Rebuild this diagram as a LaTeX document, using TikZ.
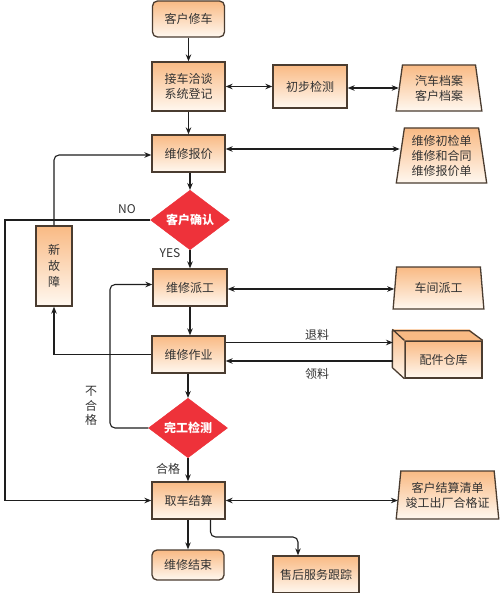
\documentclass[tikz,border=0pt]{standalone}
\usepackage{fontspec}
\setmainfont{Noto Sans CJK SC}
\usetikzlibrary{arrows.meta,shapes.geometric,calc}
\definecolor{boxtop}{RGB}{249,186,132}
\definecolor{boxbot}{RGB}{255,248,240}
\definecolor{boxline}{RGB}{74,60,48}
\definecolor{decred}{RGB}{238,50,58}
\definecolor{txt}{RGB}{51,51,51}
\definecolor{conn}{RGB}{30,30,30}
\tikzset{
  base/.style={draw=boxline, line width=1.3pt, top color=boxtop, bottom color=boxbot,
    text=txt, inner sep=0pt, align=center, font=\fontsize{12}{15}\selectfont},
  procbox/.style={base, rectangle, minimum width=#1},
  procbox/.default=73pt,
  roundbox/.style={base, rectangle, rounded corners=5pt},
  docbox/.style={base, trapezium, trapezium stretches=true,
    trapezium left angle=81, trapezium right angle=81},
  decbox/.style={diamond, fill=decred, draw=decred, text=white, inner sep=0pt,
    minimum width=79pt, minimum height=48pt, font=\fontsize{12}{15}\selectfont\bfseries},
  conline/.style={draw=conn, line width=1.1pt},
  arr/.style={conline, -{Stealth[length=7pt,width=5.5pt]}},
  darr/.style={conline, {Stealth[length=7pt,width=5.5pt]}-{Stealth[length=7pt,width=5.5pt]}},
  lbl/.style={text=txt, inner sep=0pt, font=\fontsize{12}{14.5}\selectfont, align=center}
}
\begin{document}
\begin{tikzpicture}[x=1pt,y=-1pt]
\useasboundingbox[fill=white] (0,0) rectangle (500,593);

% main column
\node[roundbox, minimum width=72pt, minimum height=36pt] (start) at (188.5,19) {客户修车};
\node[procbox, minimum height=49pt] (jc) at (188.5,86.5) {接车洽谈\\系统登记};
\node[procbox=74pt, minimum height=43pt] (cb) at (310,86.5) {初步检测};
\node[docbox, minimum width=86pt, minimum height=46pt] (da) at (439,88) {汽车档案\\客户档案};
\node[procbox, minimum height=37pt] (bj) at (188.5,153.5) {维修报价};
\node[docbox, minimum width=91pt, minimum height=55pt] (bd) at (441.5,155.5) {维修初检单\\维修和合同\\维修报价单};
\node[decbox] (qr) at (190,220) {客户确认};
\node[procbox=36pt, minimum height=80pt, font=\fontsize{12}{16}\selectfont] (xgz) at (54,266) {新\\故\\障};
\node[procbox=74pt, minimum height=37pt] (pg) at (190,287.5) {维修派工};
\node[docbox, minimum width=91pt, minimum height=42pt, trapezium left angle=80, trapezium right angle=80] (cj) at (438.5,288) {车间派工};
\node[procbox=77pt, minimum height=37pt] (wh) at (443.5,359.5) {配件仓库};
\fill[boxtop] (wh.north west) -- ++(-12,-11) -- ++(77,0) -- (wh.north east) -- cycle;
\shade[top color=boxtop, bottom color=boxbot] (wh.north west) -- ++(-12,-11) -- ++(0,37) -- (wh.south west) -- cycle;
\draw[boxline, line width=1.3pt, line join=round] (wh.south west) -- ++(-12,-11) -- ++(0,-37) -- ++(77,0) -- (wh.north east)
   (wh.north west) -- ++(-12,-11);
\coordinate (whback) at (393,348);
\node[procbox, minimum height=37pt] (zy) at (188.5,354.5) {维修作业};
\node[decbox, minimum height=47pt] (wg) at (188,428) {完工检测};
\node[procbox, minimum height=37pt] (qc) at (188.5,500.5) {取车结算};
\node[docbox, minimum width=103pt, minimum height=48pt] (qd) at (447.5,495) {客户结算清单\\竣工出厂合格证};
\node[roundbox, minimum width=72pt, minimum height=30pt] (js) at (188,565) {维修结束};
\node[procbox=86pt, minimum height=37pt] (sh) at (316,574.5) {售后服务跟踪};

\coordinate (farL) at (5,0);
\coordinate (loopL) at (110,0);
\coordinate (kink) at (0,537);

% connectors
\draw[arr] (start.south) -- (jc.north);
\draw[arr] (jc.south) -- (bj.north);
\draw[darr] (jc.east) -- (jc.east -| cb.west);
\draw[darr] ([yshift=-1.5pt]cb.east) -- ([yshift=-1.5pt]cb.east -| da.west);
\draw[darr] ([yshift=4.5pt]bj.east) -- ([yshift=4.5pt]bj.east -| bd.west);
\draw[arr] (bj.south -| qr.north) -- (qr.north);
\draw[arr] (qr.west) -- (qr.west -| farL) |- (qc.west);
\draw[arr, rounded corners=5pt] (xgz.north) |- ([yshift=-1.5pt]bj.west);
\draw[arr] (qr.south) -- (pg.north);
\draw[darr] ([yshift=-1.5pt]pg.east) -- ([yshift=-1.5pt]pg.east -| cj.west);
\draw[arr] (pg.south) -- (pg.south |- zy.north);
\draw[arr] (zy.west) -| (xgz.south);
\draw[arr] ([yshift=12pt]zy.east) -- ([yshift=12pt]zy.east -| whback);
\draw[arr] ([yshift=-6.5pt]zy.east -| whback) -- ([yshift=-6.5pt]zy.east);
\draw[arr] (zy.south -| wg.north) -- (wg.north);
\draw[arr, rounded corners=5pt] (wg.west) -- (wg.west -| loopL) |- ([yshift=3pt]pg.west);
\draw[arr] (wg.south) -- (wg.south |- qc.north);
\draw[darr] (qc.east) -- (qc.east -| qd.west);
\draw[arr] (qc.south -| js.north) -- (js.north);
\draw[arr, rounded corners=5pt] ([xshift=22pt]qc.south) |- ([xshift=-18pt]sh.north |- kink) -- ([xshift=-18pt]sh.north);

% labels
\node[lbl] (lno) at (127,209) {NO};
\node[lbl] (lyes) at (170,253) {YES};
\node[lbl] (ltl) at (317,335) {退料};
\node[lbl] (lll) at (317,374) {领料};
\node[lbl] (lhg) at (168,469) {合格};
\node[lbl] (lbhg) at (91,406) {不\\合\\格};
\end{tikzpicture}
\end{document}
